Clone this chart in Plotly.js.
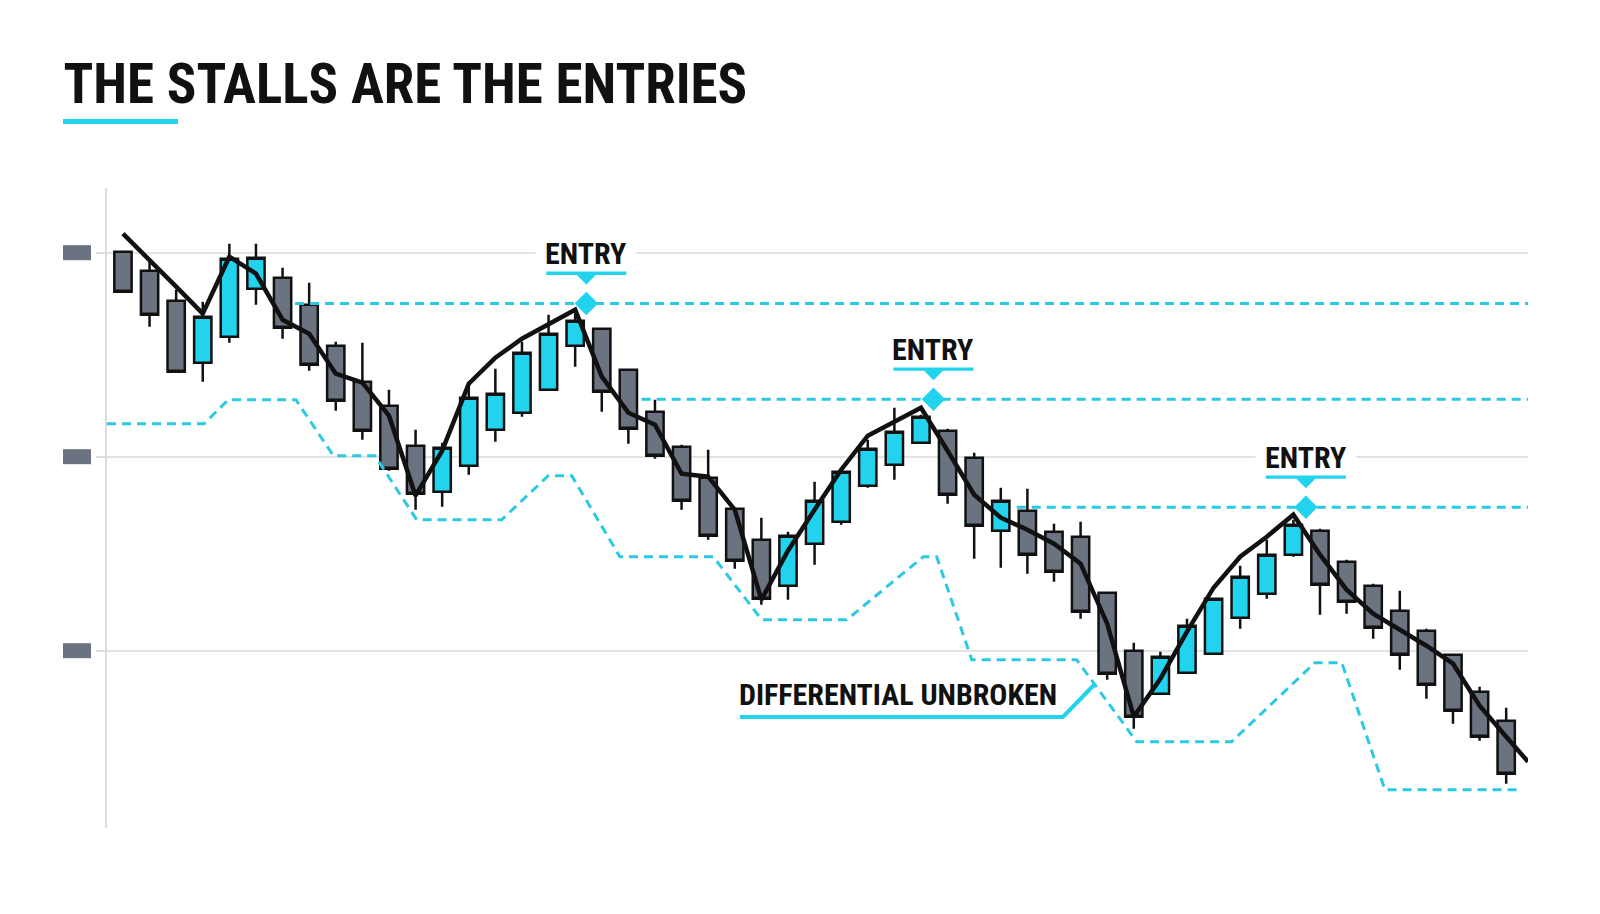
<!DOCTYPE html>
<html>
<head>
<meta charset="utf-8">
<script src="https://cdn.plot.ly/plotly-3.0.1.min.js"></script>
<style>
  html, body { margin: 0; padding: 0; background: #ffffff; }
  #chart { width: 1600px; height: 914px; }
</style>
</head>
<body>
<div id="chart"></div>
<script>
// Stalls / entries illustration - candles, trend line, differential stop and entry levels

const COLORS = {
  cyan: '#22d3ee',
  dash: '#2cc9e2',
  grey: '#6b7280',
  ink: '#111111',
  grid: '#e3e3e3',
  axis: '#dcdcdc'
};
const FONT = "'Roboto Condensed', 'Liberation Sans Narrow', 'Arial Narrow', Roboto, sans-serif";

// candles, one per bar (bar index 0..52)
const opens  = [199.5, 190, 175, 144, 157, 181, 186.5, 173, 152.5, 134.5, 122.5, 102.5, 79.5, 92.5, 110.5, 119, 130.5, 152.5,
                161, 140.5, 119.5, 102, 86.5, 71, 55.5, 32.5, 53.5, 64.5, 82.5, 93, 104, 110, 96.5, 60, 70, 59.5, 57,
                29, 0, -21.5, -11, -1.5, 16.5, 28.5, 48, 60, 44.5, 32.5, 20, 10, -2, -20.5, -35];
const highs  = [200, 195.5, 180.5, 174.5, 203.5, 203.5, 191.5, 184, 154.5, 154, 130.5, 110.5, 104, 133, 141, 154.5, 168, 168.5,
                161.5, 141, 125.5, 103, 100.5, 71.5, 66.5, 59.5, 84.5, 90, 105.5, 121.5, 118, 111, 99, 81.5, 81, 63.5, 64.5,
                29, 4, -0.5, 16, 26, 42.5, 55.5, 65.5, 61, 45.5, 33.5, 30, 11, -1.5, -18, -28.5];
const lows   = [179, 162, 139.5, 134.5, 154, 173, 156, 140, 120, 105.5, 90, 70.5, 72, 88, 104.5, 117, 130, 142,
                119.5, 103.5, 96, 70.5, 55.5, 41, 23, 25.5, 43, 63, 81.5, 85.5, 103.5, 73.5, 46, 41.5, 38.5, 34.5, 16,
                -14.5, -39, -21.5, -11.5, -1.5, 11, 26, 47, 18, 18.5, 6, -9.5, -24, -36.5, -45, -66.5];
const closes = [179.5, 168, 139.5, 167, 196, 196.5, 161.5, 143, 125, 110, 91, 78.5, 101.5, 126.5, 128.5, 149, 158.5, 165,
                129.5, 111, 97.5, 75, 57.5, 45, 26, 57.5, 75, 89.5, 101, 109.5, 117, 78, 62.5, 75, 48, 39.5, 19.5,
                -11.5, -33, -3, 12.5, 26, 37, 48, 63, 33, 24.5, 11.5, -2, -17, -30, -43, -61.5];

// black trend line, one point per bar plus its run-out to the right edge
const maValues = [208.5, 195.5, 182, 168.5, 197, 188.5, 165.5, 158.5, 138.5, 134, 117.5, 77.5, 100, 133.5, 146.5, 156, 163, 170.5,
                  137, 119, 113, 88.5, 87, 70.5, 25.5, 50, 70.5, 90.5, 107.5, 114.5, 121.5, 100, 78, 66.5, 60.5, 53.5, 43.5,
                  13.5, -33, -14, 9.5, 31.5, 47, 57, 68, 48, 30.5, 18.5, 10.5, 2.5, -6.5, -27.5, -43];
const chartEndX = 52.82;
const maEndValue = -55.5;

// lower dashed differential line (vertices)
const diffX = [-0.6, 3.05, 3.96, 6.5, 7.91, 9.47, 11.04, 14.24, 15.99, 16.87, 18.68, 22.19, 24.01, 27.21, 30.09, 30.59,
               31.91, 35.85, 38.11, 41.68, 44.81, 45.82, 47.44, 52.58];
const diffY = [113.5, 113.5, 125.5, 125.5, 97.5, 97.5, 65.5, 65.5, 87.5, 87.5, 47, 47, 15.5, 15.5, 47, 47,
               -4.5, -4.5, -45.5, -45.5, -6, -6, -69.5, -69.5];

// entry levels
const entryStartX = [6.47, 19.5, 33.6];
const entryLevels = [173.6, 125.75, 71.75];
const entryMarkX  = [17.42, 30.47, 44.47];
const entryLabel  = 'ENTRY';

const gridLevels = [0, 97, 199];
const differentialX = 36.54;
const differentialY = -16.65;
const differentialLabel = 'DIFFERENTIAL UNBROKEN';
const titleText = 'THE STALLS ARE THE ENTRIES';

const bars = opens.map((_, i) => i);

const traces = [];

// differential stop line
traces.push({
  type: 'scatter', mode: 'lines',
  x: diffX, y: diffY,
  line: { color: COLORS.dash, width: 3, dash: '9px,6px' },
  hoverinfo: 'skip'
});

// entry level lines
entryLevels.forEach((level, i) => {
  traces.push({
    type: 'scatter', mode: 'lines',
    x: [entryStartX[i], chartEndX], y: [level, level],
    line: { color: COLORS.dash, width: 3, dash: '9px,6px' },
    hoverinfo: 'skip'
  });
});

// candles
traces.push({
  type: 'candlestick',
  x: bars, open: opens, high: highs, low: lows, close: closes,
  increasing: { fillcolor: COLORS.cyan, line: { color: COLORS.ink, width: 2.5 } },
  decreasing: { fillcolor: COLORS.grey, line: { color: COLORS.ink, width: 2.5 } },
  whiskerwidth: 0,
  hoverinfo: 'skip'
});

// trend line
traces.push({
  type: 'scatter', mode: 'lines',
  x: bars.concat([chartEndX]), y: maValues.concat([maEndValue]),
  line: { color: COLORS.ink, width: 4.5 },
  hoverinfo: 'skip'
});

// entry diamonds
traces.push({
  type: 'scatter', mode: 'markers',
  x: entryMarkX, y: entryLevels,
  marker: { symbol: 'diamond', size: 18, color: COLORS.cyan, line: { width: 0 } },
  hoverinfo: 'skip'
});

const shapes = [];
const annotations = [];

// grey placeholders for the price labels
gridLevels.forEach(level => {
  shapes.push({
    type: 'rect', xref: 'paper', yref: 'y',
    xsizemode: 'pixel', ysizemode: 'pixel', xanchor: 0, yanchor: level,
    x0: -44, x1: -16, y0: -7.5, y1: 7.5,
    fillcolor: COLORS.grey, line: { width: 0 }
  });
});

// title underline
shapes.push({
  type: 'rect', xref: 'paper', yref: 'paper',
  xsizemode: 'pixel', ysizemode: 'pixel', xanchor: 0, yanchor: 1,
  x0: -44, x1: 71, y0: 64, y1: 69,
  fillcolor: COLORS.cyan, line: { width: 0 }
});

// entry labels: text, bar and pointer above each diamond
entryLevels.forEach((level, i) => {
  shapes.push({
    type: 'rect', xref: 'x', yref: 'y',
    xsizemode: 'pixel', ysizemode: 'pixel', xanchor: entryMarkX[i], yanchor: level,
    x0: -40, x1: 40, y0: 28.5, y1: 32.5,
    fillcolor: COLORS.cyan, line: { width: 0 }
  });
  shapes.push({
    type: 'path', xref: 'x', yref: 'y',
    xsizemode: 'pixel', ysizemode: 'pixel', xanchor: entryMarkX[i], yanchor: level,
    path: 'M-10,29 L10,29 L0,19 Z',
    fillcolor: COLORS.cyan, line: { width: 0 }
  });
  annotations.push({
    x: entryMarkX[i], y: level, xref: 'x', yref: 'y',
    text: entryLabel, showarrow: false, yshift: 50,
    bgcolor: '#ffffff', borderpad: 0, width: 100,
    font: { family: FONT, size: 30, color: COLORS.ink, weight: 700 }
  });
});

// differential callout
shapes.push({
  type: 'path', xref: 'x', yref: 'y',
  xsizemode: 'pixel', ysizemode: 'pixel', xanchor: differentialX, yanchor: differentialY,
  path: 'M0,0 L-32,-33 L-355,-33',
  line: { color: COLORS.cyan, width: 4 }
});
annotations.push({
  x: differentialX, y: differentialY, xref: 'x', yref: 'y',
  text: differentialLabel, showarrow: false, xshift: -197, yshift: -10.5,
  font: { family: FONT, size: 30, color: COLORS.ink, weight: 700 }
});

const layout = {
  width: 1600, height: 914,
  margin: { l: 107, r: 72, t: 188, b: 86 },
  paper_bgcolor: '#ffffff', plot_bgcolor: '#ffffff',
  showlegend: false,
  hovermode: false,
  boxgap: 0.35, boxgroupgap: 0,
  title: {
    text: titleText,
    font: { family: FONT, size: 55, color: COLORS.ink, weight: 700 },
    xref: 'container', yref: 'container',
    x: 63.5 / 1600, xanchor: 'left',
    y: 1 - 84 / 914, yanchor: 'middle'
  },
  xaxis: {
    range: [-0.6, chartEndX],
    showgrid: false, zeroline: false, showline: false, showticklabels: false, ticks: '',
    rangeslider: { visible: false }
  },
  yaxis: {
    range: [-88.65, 231.35],
    tickvals: gridLevels, showticklabels: false,
    ticks: 'outside', ticklen: 9, tickwidth: 2, tickcolor: COLORS.axis,
    showgrid: true, gridcolor: COLORS.grid, gridwidth: 2,
    showline: true, linecolor: COLORS.axis, linewidth: 2,
    zeroline: false
  },
  shapes: shapes,
  annotations: annotations
};

Plotly.newPlot('chart', traces, layout, { displayModeBar: false, staticPlot: true });
</script>
</body>
</html>
